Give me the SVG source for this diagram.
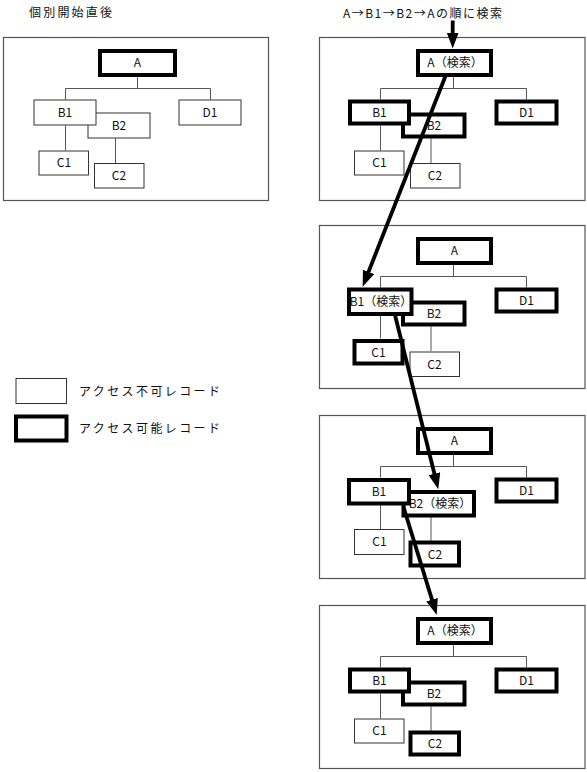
<svg xmlns="http://www.w3.org/2000/svg" width="587" height="772" viewBox="0 0 587 772">
<style>
.panel{fill:#fff;stroke:#555;stroke-width:1.2}
.thin{fill:#fff;stroke:#333;stroke-width:1}
.thick{fill:#fff;stroke:#000;stroke-width:4}
.lbl{font-family:"Noto Sans CJK JP","Liberation Sans",sans-serif;font-size:12px;fill:#111;text-anchor:middle}
.txt{font-family:"Noto Sans CJK JP","Liberation Sans",sans-serif;font-size:12px;fill:#111}
.ln{stroke:#555;stroke-width:1;fill:none}
.arr{stroke:#000;stroke-width:3.8;fill:none;marker-end:url(#ah)}
</style>
<defs>
<marker id="ah" markerUnits="userSpaceOnUse" markerWidth="18" markerHeight="14" refX="2" refY="6" orient="auto">
<path d="M0,0 L16,6 L0,12 Z" fill="#000"/>
</marker>
</defs>
<rect width="587" height="772" fill="#fff"/>

<text class="txt" x="29" y="17" textLength="83" lengthAdjust="spacing">個別開始直後</text>
<text class="txt" x="343" y="18" textLength="159" lengthAdjust="spacing">A→B1→B2→Aの順に検索</text>

<!-- Left panel -->
<g id="panel-left">
<rect class="panel" x="3.5" y="37.5" width="265" height="163"/>
<g class="ln">
<path class="ln" d="M137.5,77 V88.5 M65.5,88.5 H210.5 M65.5,88.5 V99.5 M210.5,88.5 V99.5 M65.5,125.5 V150.5 M115.5,138 V163"/>
</g>
<g id="L-B2"><rect class="thin" x="88" y="113" width="62" height="25"/><text class="lbl" x="119" y="130">B2</text></g>
<g id="L-B1"><rect class="thin" x="34" y="100" width="62" height="25"/><text class="lbl" x="65" y="117">B1</text></g>
<g id="L-A"><rect class="thick" x="100" y="51" width="75" height="24"/><text class="lbl" x="137.5" y="67">A</text></g>
<g id="L-D1"><rect class="thin" x="179" y="100" width="62" height="25"/><text class="lbl" x="210" y="117">D1</text></g>
<g id="L-C1"><rect class="thin" x="39" y="151" width="49.5" height="24"/><text class="lbl" x="64" y="167">C1</text></g>
<g id="L-C2"><rect class="thin" x="94.5" y="163.5" width="49.5" height="24.5"/><text class="lbl" x="119" y="180">C2</text></g>
</g>

<!-- Right panel 1 -->
<g id="panel-r1">
<rect class="panel" x="319.5" y="37.5" width="265.5" height="163"/>
<path class="ln" d="M453.5,77 V88.5 M380.5,88.5 H526.5 M380.5,88.5 V99.5 M526.5,88.5 V99.5 M380.5,125.5 V150.5 M431,138.5 V163"/>
<g id="R1-B2"><rect class="thick" x="403" y="114.5" width="61.5" height="22"/><text class="lbl" x="434" y="130">B2</text></g>
<g id="R1-B1"><rect class="thick" x="350" y="101.5" width="59" height="22"/><text class="lbl" x="379.5" y="117">B1</text></g>
<g id="R1-A"><rect class="thick" x="418" y="51" width="73" height="24"/><text class="lbl" x="455" y="67">A（検索）</text></g>
<g id="R1-D1"><rect class="thick" x="496.5" y="101.5" width="60" height="22"/><text class="lbl" x="526.5" y="117">D1</text></g>
<g id="R1-C1"><rect class="thin" x="354.5" y="151" width="49.5" height="24"/><text class="lbl" x="379.5" y="167">C1</text></g>
<g id="R1-C2"><rect class="thin" x="410.5" y="163.5" width="49.5" height="24.5"/><text class="lbl" x="435" y="180">C2</text></g>
</g>

<!-- Right panel 2 -->
<g id="panel-r2">
<rect class="panel" x="319.5" y="225.5" width="265.5" height="163"/>
<path class="ln" d="M453.5,265 V276.5 M380.5,276.5 H526.5 M380.5,276.5 V287.5 M526.5,276.5 V287.5 M380.5,316 V338.5 M431,326.5 V351"/>
<g id="R2-B2"><rect class="thick" x="403" y="302.5" width="61.5" height="22"/><text class="lbl" x="434" y="318">B2</text></g>
<g id="R2-B1"><rect class="thick" x="349" y="289.5" width="62.5" height="24.5"/><text class="lbl" x="381" y="306">B1（検索）</text></g>
<g id="R2-A"><rect class="thick" x="418" y="239" width="73" height="24"/><text class="lbl" x="454.5" y="255">A</text></g>
<g id="R2-D1"><rect class="thick" x="496.5" y="289.5" width="60" height="22"/><text class="lbl" x="526.5" y="305">D1</text></g>
<g id="R2-C1"><rect class="thick" x="354.5" y="341" width="48" height="22.5"/><text class="lbl" x="378.5" y="356.5">C1</text></g>
<g id="R2-C2"><rect class="thin" x="410" y="352" width="49.5" height="24.5"/><text class="lbl" x="434.5" y="368.5">C2</text></g>
</g>

<!-- Right panel 3 -->
<g id="panel-r3">
<rect class="panel" x="319.5" y="415.5" width="265.5" height="163"/>
<path class="ln" d="M453.5,455 V466.5 M380.5,466.5 H526.5 M380.5,466.5 V477.5 M526.5,466.5 V477.5 M380.5,503.5 V529 M431,517 V541"/>
<g id="R3-B2"><rect class="thick" x="403.5" y="492" width="70.5" height="23.5"/><text class="lbl" x="440" y="508">B2（検索）</text></g>
<g id="R3-B1"><rect class="thick" x="349" y="480" width="60" height="23.5"/><text class="lbl" x="379" y="496">B1</text></g>
<g id="R3-A"><rect class="thick" x="418" y="429" width="73" height="24"/><text class="lbl" x="454.5" y="445">A</text></g>
<g id="R3-D1"><rect class="thick" x="496.5" y="479.5" width="60" height="22"/><text class="lbl" x="526.5" y="495">D1</text></g>
<g id="R3-C1"><rect class="thin" x="354.5" y="529.5" width="49.5" height="25"/><text class="lbl" x="379.5" y="546">C1</text></g>
<g id="R3-C2"><rect class="thick" x="410.5" y="542.5" width="48.5" height="23"/><text class="lbl" x="435" y="558.5">C2</text></g>
</g>

<!-- Right panel 4 -->
<g id="panel-r4">
<rect class="panel" x="319.5" y="605.5" width="265.5" height="163"/>
<path class="ln" d="M453.5,645 V656.5 M380.5,656.5 H526.5 M380.5,656.5 V667.5 M526.5,656.5 V667.5 M380.5,693.5 V718.5 M431,706.5 V731"/>
<g id="R4-B2"><rect class="thick" x="403" y="682.5" width="61.5" height="22"/><text class="lbl" x="434" y="698">B2</text></g>
<g id="R4-B1"><rect class="thick" x="350" y="669.5" width="59" height="22"/><text class="lbl" x="379.5" y="685">B1</text></g>
<g id="R4-A"><rect class="thick" x="418" y="619" width="73" height="24"/><text class="lbl" x="455" y="635">A（検索）</text></g>
<g id="R4-D1"><rect class="thick" x="496.5" y="669.5" width="60" height="22"/><text class="lbl" x="526.5" y="685">D1</text></g>
<g id="R4-C1"><rect class="thin" x="354.5" y="719" width="49.5" height="24"/><text class="lbl" x="379.5" y="735">C1</text></g>
<g id="R4-C2"><rect class="thick" x="410.5" y="732.5" width="48.5" height="22"/><text class="lbl" x="435" y="748">C2</text></g>
</g>

<!-- Legend -->
<g id="legend-inaccessible">
<rect class="thin" x="16" y="378.5" width="50.5" height="25"/>
<text class="txt" x="79" y="396" textLength="141" lengthAdjust="spacing">アクセス不可レコード</text>
</g>
<g id="legend-accessible">
<rect class="thick" x="16" y="416.5" width="50.5" height="24"/>
<text class="txt" x="79" y="432.5" textLength="141" lengthAdjust="spacing">アクセス可能レコード</text>
</g>

<!-- Connectors (search order arrows) -->
<g id="connectors">
<path class="arr" d="M452.7,20.5 L452.7,34.5"/>
<path class="arr" d="M445.5,76 L367.8,273.7"/>
<path class="arr" d="M395,315 L434.9,475.7"/>
<path class="arr" d="M403.5,507 L432.6,601.6"/>
</g>
</svg>
